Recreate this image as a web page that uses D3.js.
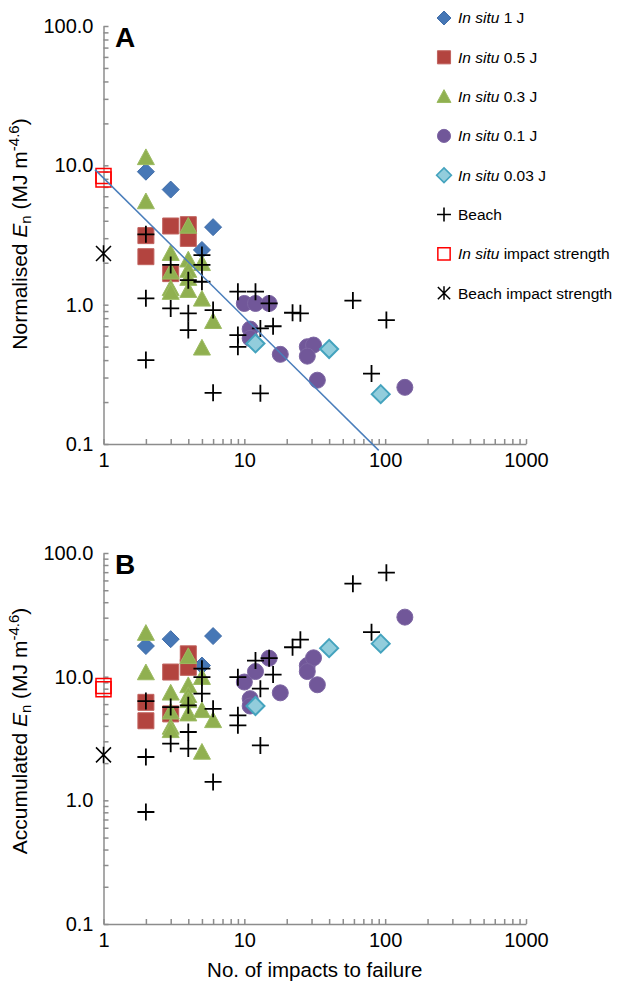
<!DOCTYPE html>
<meta charset="utf-8">
<style>

body {
  margin: 0;
  background: #fff;
}

svg {
  font-family: "Liberation Sans", Arial, sans-serif;
}

.axis path,
.axis line {
  stroke: #8c8c8c;
  stroke-width: 1.5px;
}

.axis text {
  font-size: 20px;
  fill: #000;
}

.legend text {
  font-size: 15.5px;
}

</style>
<svg width="618" height="984"></svg>
<script src="https://d3js.org/d3.v7.min.js"></script>
<script>

// in situ, 1 J
var insitu1J_x    = [2, 3, 5, 6];
var insitu1J_norm = [9.0, 6.7, 2.47, 3.6];
var insitu1J_acc  = [17.7, 20.1, 12.3, 21.3];

// in situ, 0.5 J
var insitu05J_x    = [2, 2, 3, 3, 4, 4];
var insitu05J_norm = [3.13, 2.21, 3.67, 1.67, 3.75, 2.99];
var insitu05J_acc  = [6.2, 4.4, 10.9, 5.0, 15.3, 11.9];

// in situ, 0.3 J
var insitu03J_x    = [2, 2, 3, 3, 3, 3, 4, 4, 4, 4, 4, 5, 5, 5, 6];
var insitu03J_norm = [11.4, 5.5, 2.34, 1.72, 1.31, 1.23, 3.67, 2.1, 1.77, 1.55, 1.27, 1.98, 1.1, 0.49, 0.76];
var insitu03J_acc  = [22.5, 10.8, 7.4, 5.2, 3.92, 3.68, 14.6, 8.5, 7.07, 6.43, 5.02, 9.9, 5.34, 2.46, 4.43];

// in situ, 0.1 J
var insitu01J_x    = [10, 12, 15, 11, 11, 18, 28, 31, 28, 33, 138];
var insitu01J_norm = [1.02, 1.02, 1.02, 0.668, 0.573, 0.44, 0.499, 0.513, 0.427, 0.287, 0.255];
var insitu01J_acc  = [9.05, 11.0, 14.1, 6.64, 5.79, 7.4, 12.3, 14.2, 11.0, 8.6, 30.3];

// in situ, 0.03 J
var insitu003J_x    = [12, 40, 93];
var insitu003J_norm = [0.527, 0.48, 0.228];
var insitu003J_acc  = [5.79, 17.0, 18.5];

// beach
var beach_x    = [2, 2, 2, 3, 3, 4, 4, 4, 5, 5, 5, 6, 6, 9, 9, 9, 12, 13, 13, 15, 16, 22, 25, 59, 102, 80];
var beach_norm = [3.2, 1.11, 0.40, 1.93, 0.94, 1.5, 0.866, 0.657, 2.27, 1.93, 1.46, 0.915, 0.233, 1.24, 0.605, 0.498,
                  1.24, 0.675, 0.231, 1.02, 0.70, 0.875, 0.866, 1.07, 0.775, 0.32];
var beach_acc  = [6.35, 2.24, 0.805, 5.68, 2.87, 5.86, 3.57, 2.62, 11.6, 9.9, 7.3, 5.5, 1.41, 9.9, 4.87, 4.04,
                  13.5, 8.0, 2.78, 14.1, 10.4, 17.3, 19.9, 56.5, 69.3, 22.9];

// impact strengths (plotted at 1 impact)
var insituStrength_x    = [1, 1];
var insituStrength_norm = [8.4, 7.9];
var insituStrength_acc  = [8.4, 7.9];
var beachStrength_x    = [1];
var beachStrength_norm = [2.33];
var beachStrength_acc  = [2.33];

// power trendline in panel A: y = a * x^b
var fitA = 8.1, fitB = -1.0;
var fitRange = [0.87, 90];

var xTickValues = [1, 10, 100, 1000];
var xTickLabels = ["1", "10", "100", "1000"];
var yTickValues = [0.1, 1, 10, 100];
var yTickLabels = ["0.1", "1.0", "10.0", "100.0"];

// marker paths, s = half size
var shapes = {
  diamond: function(s) { return "M0," + (-s) + "L" + s + ",0L0," + s + "L" + (-s) + ",0Z"; },
  square: function(s) { return "M" + (-s) + "," + (-s) + "h" + 2 * s + "v" + 2 * s + "h" + (-2 * s) + "Z"; },
  triangle: function(s) { return "M0," + (-s) + "L" + s + "," + (s * 0.85) + "L" + (-s) + "," + (s * 0.85) + "Z"; },
  circle: function(s) { var p = d3.path(); p.arc(0, 0, s, 0, 2 * Math.PI); return p.toString(); },
  plus: function(s) { return "M" + (-s) + ",0h" + 2 * s + "M0," + (-s) + "v" + 2 * s; },
  star: function(s) { return "M" + (-s) + "," + (-s) + "L" + s + "," + s + "M" + (-s) + "," + s + "L" + s + "," + (-s) + "M0," + (-s * 1.1) + "v" + 2.2 * s; }
};

var series = [
  {name: " 1 J", italic: "In situ", x: insitu1J_x, norm: insitu1J_norm, acc: insitu1J_acc,
   shape: "diamond", size: 8.5, fill: "#4677b6", stroke: "#3f6ca8", sw: 1},
  {name: " 0.5 J", italic: "In situ", x: insitu05J_x, norm: insitu05J_norm, acc: insitu05J_acc,
   shape: "square", size: 8, fill: "#b3443f", stroke: "#c0625e", sw: 1},
  {name: " 0.3 J", italic: "In situ", x: insitu03J_x, norm: insitu03J_norm, acc: insitu03J_acc,
   shape: "triangle", size: 8.5, fill: "#90b050", stroke: "#9cbb62", sw: 1},
  {name: " 0.1 J", italic: "In situ", x: insitu01J_x, norm: insitu01J_norm, acc: insitu01J_acc,
   shape: "circle", size: 8, fill: "#715799", stroke: "#7d66a3", sw: 1},
  {name: " 0.03 J", italic: "In situ", x: insitu003J_x, norm: insitu003J_norm, acc: insitu003J_acc,
   shape: "diamond", size: 9, fill: "#92cddc", stroke: "#44a3be", sw: 2},
  {name: "Beach", italic: "", x: beach_x, norm: beach_norm, acc: beach_acc,
   shape: "plus", size: 8.5, fill: "none", stroke: "#000", sw: 1.8},
  {name: " impact strength", italic: "In situ", x: insituStrength_x, norm: insituStrength_norm, acc: insituStrength_acc,
   shape: "square", size: 7.5, fill: "none", stroke: "#ff0000", sw: 1.5},
  {name: "Beach impact strength", italic: "", x: beachStrength_x, norm: beachStrength_norm, acc: beachStrength_acc,
   shape: "star", size: 7.5, fill: "none", stroke: "#000", sw: 1.5}
];

var svg = d3.select("svg");

var x = d3.scaleLog().domain([1, 1000]).range([103.5, 526]);

var panels = [
  {label: "A", top: 26, bottom: 444, key: "norm", title: "Normalised ", titleY: 234, xTitle: false, trend: true},
  {label: "B", top: 553, bottom: 924, key: "acc", title: "Accumulated ", titleY: 731, xTitle: true, trend: false}
];

panels.forEach(function(p) {
  var y = d3.scaleLog().domain([0.1, 100]).range([p.bottom, p.top]);
  var g = svg.append("g");

  g.append("g")
      .attr("class", "axis")
      .attr("transform", "translate(0," + p.bottom + ")")
      .call(d3.axisBottom(x)
        .tickValues(x.ticks())
        .tickSize(-5)
        .tickSizeOuter(0)
        .tickPadding(9)
        .tickFormat(function(d) {
          var i = xTickValues.findIndex(function(v) { return Math.abs(v - d) < 1e-9; });
          return i < 0 ? "" : xTickLabels[i];
        }));

  g.append("g")
      .attr("class", "axis")
      .attr("transform", "translate(" + x(1) + ",0)")
      .call(d3.axisLeft(y)
        .tickValues(y.ticks())
        .tickSize(-5)
        .tickSizeOuter(0)
        .tickPadding(10)
        .tickFormat(function(d) {
          var i = yTickValues.findIndex(function(v) { return Math.abs(v - d) < 1e-9; });
          return i < 0 ? "" : yTickLabels[i];
        }));

  // y axis title
  var t = g.append("text")
      .attr("transform", "translate(27," + p.titleY + ") rotate(-90)")
      .attr("text-anchor", "middle")
      .style("font-size", "21px");
  t.append("tspan").text(p.title);
  t.append("tspan").style("font-style", "italic").text("E");
  t.append("tspan").attr("dy", 4).style("font-size", "15px").text("n");
  t.append("tspan").attr("dy", -4).text(" (MJ m");
  t.append("tspan").attr("dy", -8).style("font-size", "15px").text("-4.6");
  t.append("tspan").attr("dy", 8).text(")");

  if (p.xTitle) {
    g.append("text")
        .attr("x", (x(1) + x(1000)) / 2)
        .attr("y", 977)
        .attr("text-anchor", "middle")
        .style("font-size", "20.5px")
        .text("No. of impacts to failure");
  }

  // panel letter
  g.append("text")
      .attr("x", 115)
      .attr("y", p.top + 21)
      .style("font-size", "28px")
      .style("font-weight", "bold")
      .text(p.label);

  series.forEach(function(s) {
    g.selectAll(null)
      .data(s.x.map(function(v, i) { return [v, s[p.key][i]]; }))
      .enter().append("path")
        .attr("transform", function(d) { return "translate(" + x(d[0]) + "," + y(d[1]) + ")"; })
        .attr("d", shapes[s.shape](s.size))
        .attr("fill", s.fill)
        .attr("stroke", s.stroke)
        .attr("stroke-width", s.sw);
  });

  if (p.trend) {
    var line = d3.line()
        .x(function(d) { return x(d); })
        .y(function(d) { return y(fitA * Math.pow(d, fitB)); });
    g.append("path")
        .attr("d", line(fitRange))
        .attr("fill", "none")
        .attr("stroke", "#4a7ebb")
        .attr("stroke-width", 1.5);
  }
});

// legend
var legend = svg.append("g")
    .attr("class", "legend")
    .attr("transform", "translate(444,18)");

var item = legend.selectAll("g")
  .data(series)
  .enter().append("g")
    .attr("transform", function(d, i) { return "translate(0," + i * 39.3 + ")"; });

item.append("path")
    .attr("d", function(d) { return shapes[d.shape](d.size * 0.82); })
    .attr("fill", function(d) { return d.fill; })
    .attr("stroke", function(d) { return d.stroke; })
    .attr("stroke-width", function(d) { return Math.min(d.sw, 1.6); });

var label = item.append("text")
    .attr("x", 14)
    .attr("dy", "0.35em");
label.append("tspan")
    .style("font-style", "italic")
    .text(function(d) { return d.italic; });
label.append("tspan")
    .text(function(d) { return d.name; });

</script>
